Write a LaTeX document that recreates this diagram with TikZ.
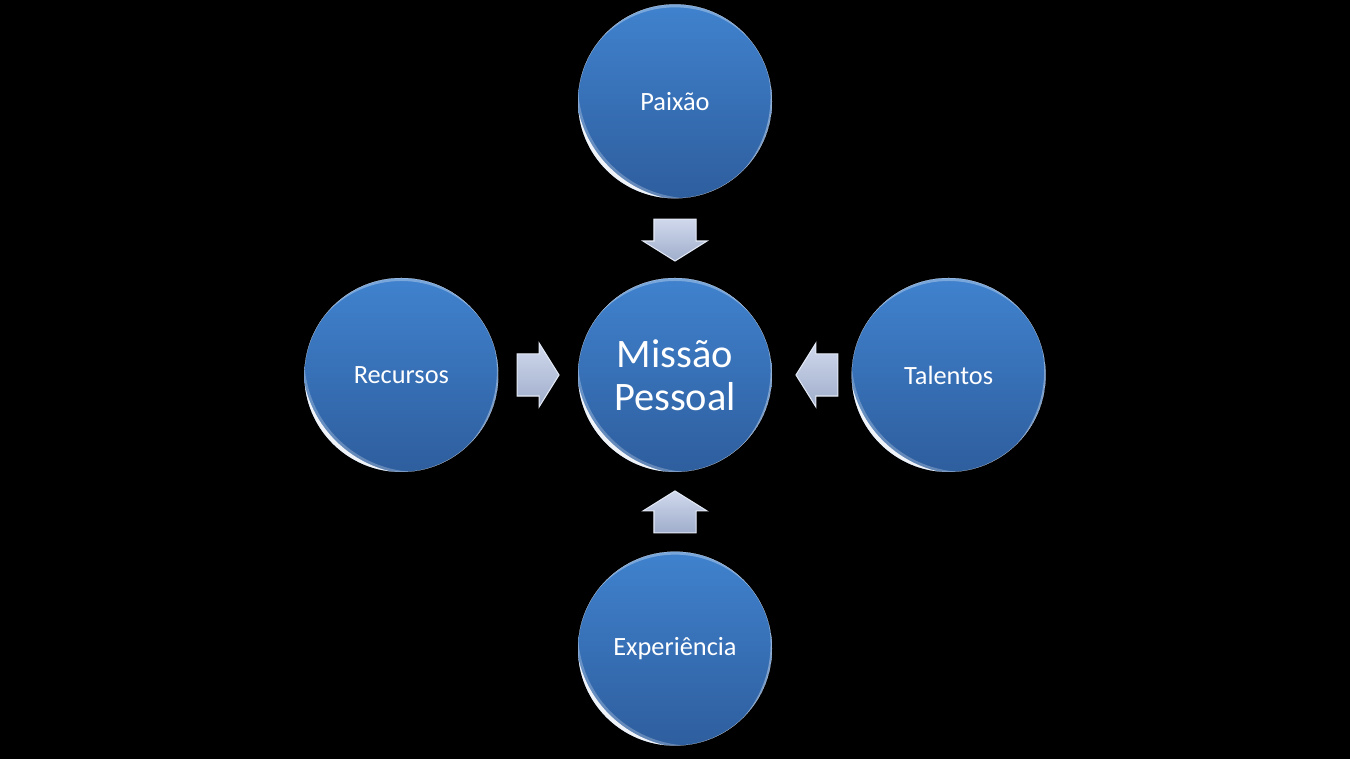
\documentclass[tikz,border=0pt]{standalone}
\usepackage{fontspec}
\setmainfont{Carlito}
\usetikzlibrary{shapes.arrows, positioning, calc}
\definecolor{bubtop}{RGB}{64,130,206}
\definecolor{bubbot}{RGB}{46,94,158}
\definecolor{arrtop}{RGB}{208,216,236}
\definecolor{arrbot}{RGB}{160,174,204}
\definecolor{arredge}{RGB}{228,234,246}

\begin{document}
\begin{tikzpicture}[
    x=0.02cm, y=0.02cm,
    node distance=1.58cm,
    bubble/.style={circle, minimum size=3.88cm, inner sep=0pt, top color=bubtop, bottom color=bubbot, text=white, font=\fontsize{15}{18}\selectfont, align=center},
    bigbubble/.style={bubble, font=\fontsize{23}{24.5}\selectfont},
    blockarr/.style={single arrow, single arrow head extend=0.22cm, single arrow tip angle=116, minimum height=0.84cm, top color=arrtop, bottom color=arrbot, draw=arredge, line width=0.6pt},
    harr/.style={blockarr, inner xsep=0pt, inner ysep=0.41cm},
    varr/.style={blockarr, inner xsep=0.41cm, inner ysep=0pt},
]

% Background
\fill[black] (0,0) rectangle (1350,759);

% Circles
\node[bigbubble] (missao) at (675,384) {Missão\\Pessoal};
\node[bubble, above=of missao] (paixao) {Paixão};
\node[bubble, left=of missao] (recursos) {Recursos};
\node[bubble, right=of missao] (talentos) {Talentos};
\node[bubble, below=of missao] (experiencia) {Experiência};

% Glints on the rims
\foreach \n in {missao, paixao, recursos, talentos, experiencia} {
  \begin{scope}
    \clip (\n.center) circle[radius=97];
    \fill[white, opacity=0.25, even odd rule] (\n.center) circle[radius=97] ($(\n.center)+(45:24)$) circle[radius=114];
    \fill[white, opacity=0.9, even odd rule] (\n.center) circle[radius=97] ($(\n.center)+(45:22)$) circle[radius=115];
    \fill[white, opacity=0.3, even odd rule] (\n.center) circle[radius=97] ($(\n.center)+(270:8.4)$) circle[radius=102.4];
    \fill[white, opacity=0.35, even odd rule] (\n.center) circle[radius=97] ($(\n.center)+(165:16)$) circle[radius=111];
  \end{scope}
}

% Arrows
\node[varr, shape border rotate=270, anchor=tip] (setapaixao) at ($(missao.north)+(0,16)$) {};
\node[harr, shape border rotate=0, anchor=tip] (setarecursos) at ($(missao.west)+(-18,0)$) {};
\node[harr, shape border rotate=180, anchor=tip] (setatalentos) at ($(missao.east)+(23,0)$) {};
\node[varr, shape border rotate=90, anchor=tip] (setaexperiencia) at ($(missao.south)+(0,-18)$) {};

\end{tikzpicture}
\end{document}
